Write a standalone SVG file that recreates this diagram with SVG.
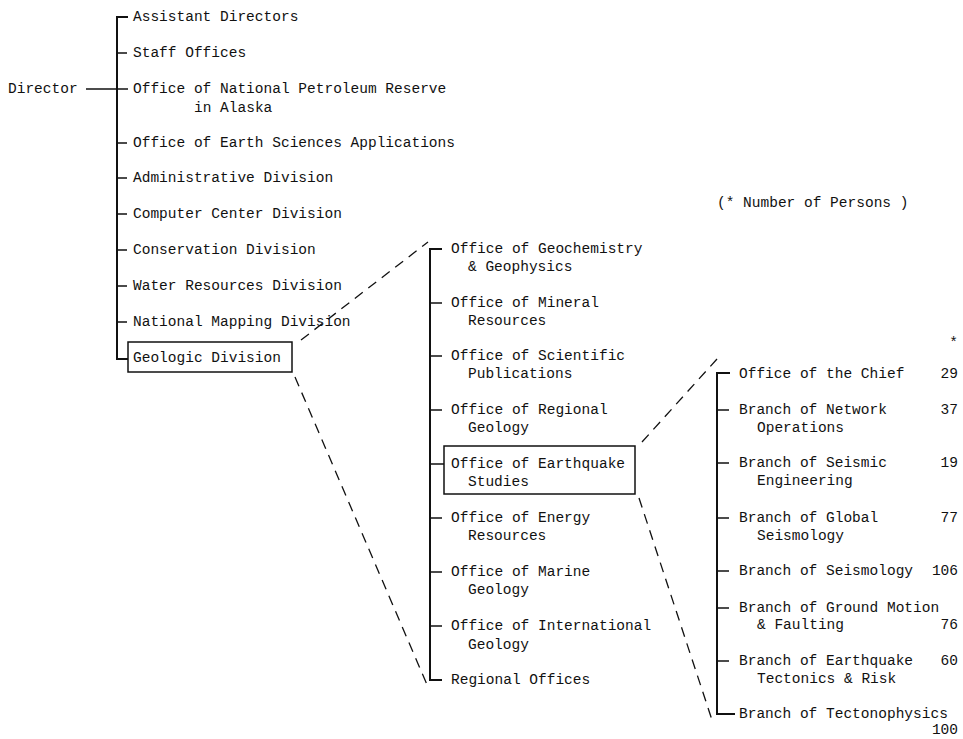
<svg xmlns="http://www.w3.org/2000/svg" width="963" height="739" viewBox="0 0 963 739">
<style>
text{font-family:"Liberation Mono","DejaVu Sans Mono",monospace;font-size:14.5px;fill:#111}
.num{text-anchor:end}
.bus{stroke:#111;stroke-width:2;fill:none}
.tick{stroke:#111;stroke-width:1.6;fill:none}
.dash{stroke:#111;stroke-width:1.3;fill:none;stroke-dasharray:10 7}
.box{stroke:#111;stroke-width:1.5;fill:none}
</style>
<rect width="963" height="739" fill="#fff"/>
<g id="connectors">
  <!-- Director to bus -->
  <line class="tick" x1="86" y1="89" x2="128" y2="89"/>
  <!-- left bus -->
  <path class="bus" d="M128,17 H117 V359 H128"/>
  <path class="tick" d="M117,53 H127 M117,143 H127 M117,178 H127 M117,214 H127 M117,250 H127 M117,286 H127 M117,322 H127"/>
  <!-- middle bus -->
  <path class="bus" d="M442,249 H430 V680 H442"/>
  <path class="tick" d="M430,303 H442 M430,356 H442 M430,410 H442 M430,464 H444 M430,518 H442 M430,572 H442 M430,626 H442"/>
  <!-- right bus -->
  <path class="bus" d="M730,373 H717 V714 H735"/>
  <path class="tick" d="M717,410 H729 M717,463 H729 M717,518 H729 M717,571 H729 M717,608 H729 M717,661 H729"/>
  <!-- dashed zoom lines -->
  <line class="dash" x1="301" y1="340" x2="428" y2="242"/>
  <line class="dash" x1="295" y1="377" x2="428" y2="687"/>
  <line class="dash" x1="642" y1="442" x2="717" y2="359"/>
  <line class="dash" x1="639" y1="498" x2="713" y2="723"/>
</g>
<g id="director"><text x="8" y="93">Director</text></g>
<g id="assistant-directors"><text x="133" y="21">Assistant Directors</text></g>
<g id="staff-offices"><text x="133" y="57">Staff Offices</text></g>
<g id="npr-alaska"><text x="133" y="93">Office of National Petroleum Reserve</text><text x="194" y="112">in Alaska</text></g>
<g id="earth-sciences-apps"><text x="133" y="147">Office of Earth Sciences Applications</text></g>
<g id="administrative"><text x="133" y="182">Administrative Division</text></g>
<g id="computer-center"><text x="133" y="218">Computer Center Division</text></g>
<g id="conservation"><text x="133" y="254">Conservation Division</text></g>
<g id="water-resources"><text x="133" y="290">Water Resources Division</text></g>
<g id="national-mapping"><text x="133" y="326">National Mapping Division</text></g>
<g id="geologic-division"><rect class="box" x="128" y="342" width="164" height="30"/><text x="133" y="362">Geologic Division</text></g>

<g id="geochemistry"><text x="451" y="253">Office of Geochemistry</text><text x="468" y="271">&amp; Geophysics</text></g>
<g id="mineral"><text x="451" y="307">Office of Mineral</text><text x="468" y="325">Resources</text></g>
<g id="scientific-pub"><text x="451" y="360">Office of Scientific</text><text x="468" y="378">Publications</text></g>
<g id="regional-geology"><text x="451" y="414">Office of Regional</text><text x="468" y="432">Geology</text></g>
<g id="earthquake-studies"><rect class="box" x="444" y="446" width="191" height="48"/><text x="451" y="468">Office of Earthquake</text><text x="468" y="486">Studies</text></g>
<g id="energy"><text x="451" y="522">Office of Energy</text><text x="468" y="540">Resources</text></g>
<g id="marine"><text x="451" y="576">Office of Marine</text><text x="468" y="594">Geology</text></g>
<g id="international"><text x="451" y="630">Office of International</text><text x="468" y="649">Geology</text></g>
<g id="regional-offices"><text x="451" y="684">Regional Offices</text></g>

<g id="legend"><text x="717" y="207">(* Number of Persons )</text></g>
<g id="star"><text class="num" x="958" y="347">*</text></g>

<g id="office-chief"><text x="739" y="378">Office of the Chief</text><text class="num" x="958" y="378">29</text></g>
<g id="network-ops"><text x="739" y="414">Branch of Network</text><text x="757" y="432">Operations</text><text class="num" x="958" y="414">37</text></g>
<g id="seismic-eng"><text x="739" y="467">Branch of Seismic</text><text x="757" y="485">Engineering</text><text class="num" x="958" y="467">19</text></g>
<g id="global-seis"><text x="739" y="522">Branch of Global</text><text x="757" y="540">Seismology</text><text class="num" x="958" y="522">77</text></g>
<g id="seismology"><text x="739" y="575">Branch of Seismology</text><text class="num" x="958" y="575">106</text></g>
<g id="ground-motion"><text x="739" y="612">Branch of Ground Motion</text><text x="757" y="629">&amp; Faulting</text><text class="num" x="958" y="629">76</text></g>
<g id="eq-tectonics"><text x="739" y="665">Branch of Earthquake</text><text x="757" y="683">Tectonics &amp; Risk</text><text class="num" x="958" y="665">60</text></g>
<g id="tectonophysics"><text x="739" y="718">Branch of Tectonophysics</text><text class="num" x="958" y="734">100</text></g>
</svg>
